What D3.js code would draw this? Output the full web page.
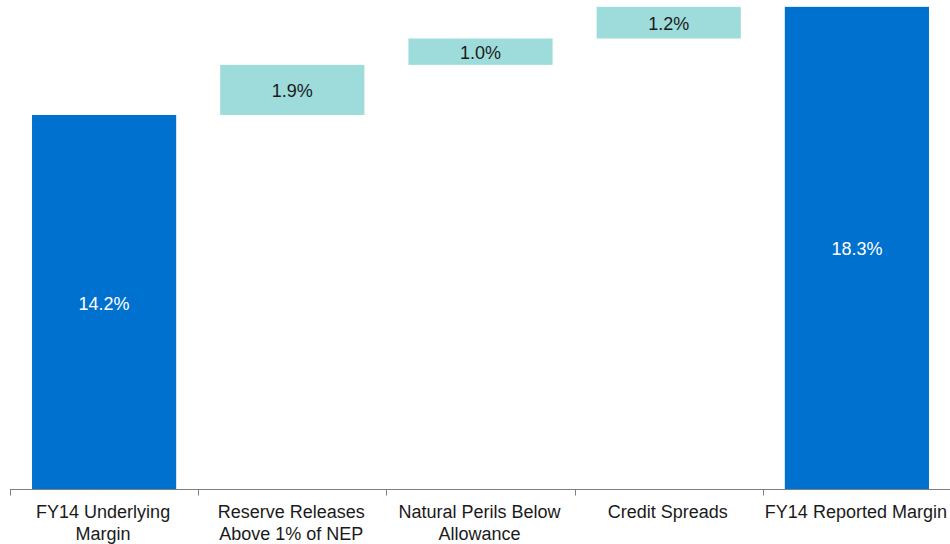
<!DOCTYPE html>
<html>
<head>
<meta charset="utf-8">
<script src="https://cdn.jsdelivr.net/npm/d3@7"></script>
<style>
  html, body { margin: 0; padding: 0; background: #fff; }
  svg { display: block; }
  text { font-family: "Liberation Sans", Arial, sans-serif; }
</style>
</head>
<body>
<svg id="chart" width="950" height="544"></svg>
<script>
// Margin bridge: underlying to reported (percentage points)
const categories = [
  ["FY14 Underlying", "Margin"],
  ["Reserve Releases", "Above 1% of NEP"],
  ["Natural Perils Below", "Allowance"],
  ["Credit Spreads"],
  ["FY14 Reported Margin"]
];
const values = [14.2, 1.9, 1.0, 1.2, 18.3];
const kinds = ["total", "step", "step", "step", "total"];
const valueLabels = ["14.2%", "1.9%", "1.0%", "1.2%", "18.3%"];

// Floating segments: totals start at zero, steps start where the previous ended
let running = 0;
const bars = values.map((v, i) => {
  let y0, y1;
  if (kinds[i] === "total") { y0 = 0; y1 = v; running = v; }
  else { y0 = running; y1 = running + v; running = y1; }
  return { i, y0, y1, kind: kinds[i], label: valueLabels[i] };
});

const svg = d3.select("#chart");
const baseY = 489.5;

const x = d3.scaleBand()
  .domain(d3.range(categories.length))
  .range([10, 951])
  .paddingInner(0.234)
  .paddingOuter(0.117);

const y = d3.scaleLinear()
  .domain([0, 18.56])
  .range([baseY, 0]);

const colors = { total: "#0071ce", step: "#9ddcda" };

svg.append("g").selectAll("rect")
  .data(bars)
  .join("rect")
  .attr("x", d => x(d.i))
  .attr("width", x.bandwidth())
  .attr("y", d => y(d.y1))
  .attr("height", d => y(d.y0) - y(d.y1))
  .attr("fill", d => colors[d.kind]);

svg.append("g").selectAll("text")
  .data(bars)
  .join("text")
  .attr("x", d => x(d.i) + x.bandwidth() / 2)
  .attr("y", d => (y(d.y0) + y(d.y1)) / 2 + 1)
  .attr("dy", "0.35em")
  .attr("text-anchor", "middle")
  .attr("font-size", 18)
  .attr("fill", d => d.kind === "total" ? "#ffffff" : "#1a1a1a")
  .text(d => d.label);

// Category axis with ticks at the band boundaries
const axis = svg.append("g");
axis.append("line")
  .attr("x1", 10).attr("x2", 950)
  .attr("y1", baseY).attr("y2", baseY)
  .attr("stroke", "#7f7f7f").attr("stroke-width", 1);

const tickXs = d3.range(categories.length).map(i => x(i) - x.step() * x.paddingInner() / 2);
tickXs[0] = 10;
axis.selectAll("line.tick")
  .data(tickXs)
  .join("line")
  .attr("class", "tick")
  .attr("x1", d => Math.round(d) + 0.5).attr("x2", d => Math.round(d) + 0.5)
  .attr("y1", baseY).attr("y2", baseY + 6)
  .attr("stroke", "#7f7f7f").attr("stroke-width", 1);

const labels = axis.selectAll("text.cat")
  .data(categories)
  .join("text")
  .attr("class", "cat")
  .attr("text-anchor", "middle")
  .attr("font-size", 18)
  .attr("fill", "#1a1a1a")
  .attr("transform", (d, i) => `translate(${x(i) + x.bandwidth() / 2 - 1},518)`);

labels.selectAll("tspan")
  .data(d => d)
  .join("tspan")
  .attr("x", 0)
  .attr("y", (d, j) => j * 22)
  .text(d => d);
</script>
</body>
</html>
